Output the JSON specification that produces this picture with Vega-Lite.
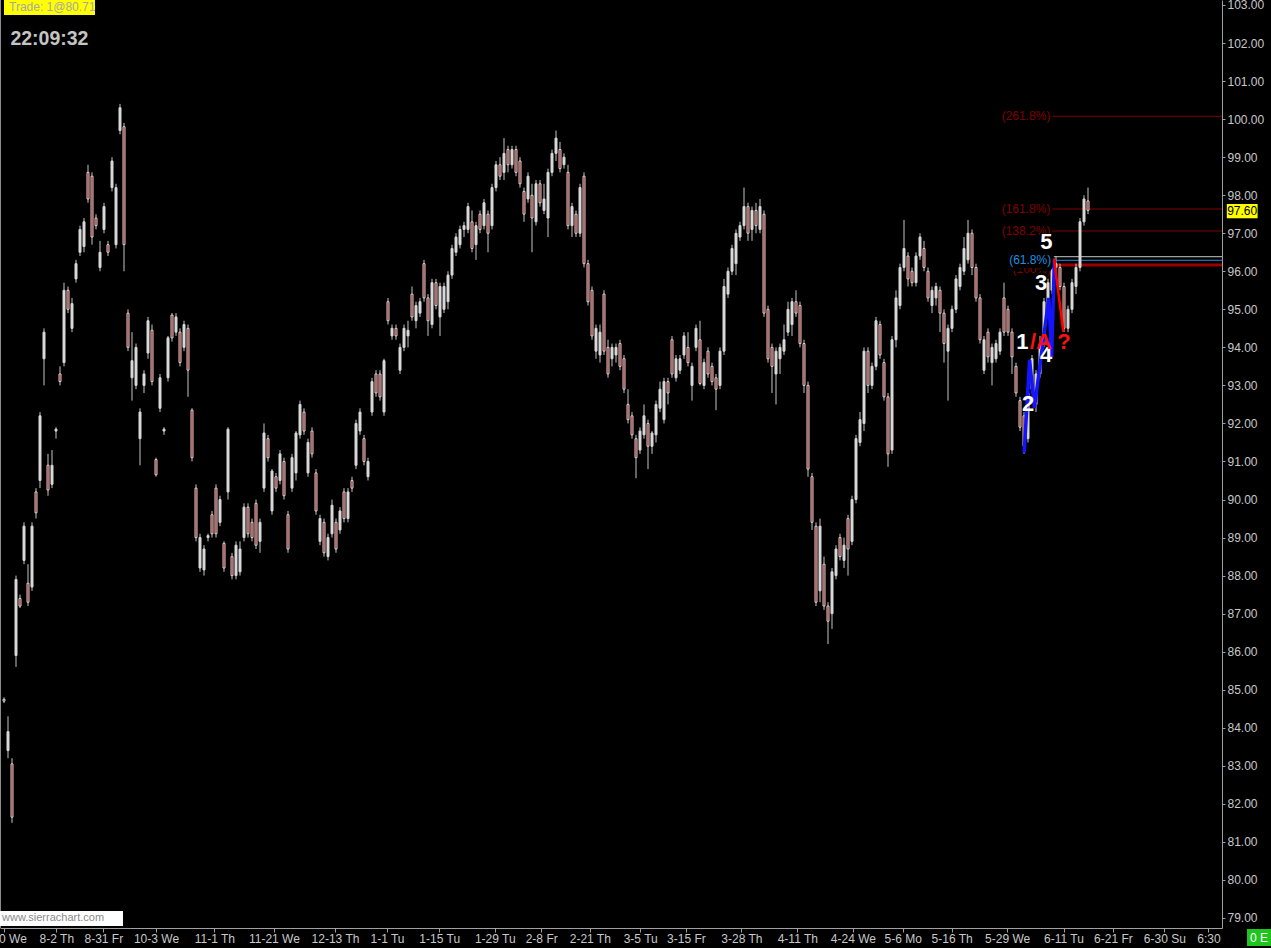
{
"$schema":"https://vega.github.io/schema/vega-lite/v6.json",
"width":1222,"height":928,
"autosize":{"type":"none"},
"padding":{"left":0,"top":0,"right":49,"bottom":20},
"background":"#000000",
"config":{"view":{"stroke":null},"font":"Liberation Sans","axis":{"labelFont":"Liberation Sans","labelFontSize":12,"labelColor":"#c8c8c8","domainColor":"#a0a0a0","tickColor":"#a0a0a0","grid":false,"labelOverlap":false,"labelFlush":false},"axisY":{"labelOverlap":false,"labelBaseline":"middle","tickSize":3,"labelPadding":2},"axisX":{"labelOverlap":false,"tickSize":4,"labelPadding":1}},
"datasets":{
"ohlc":[
{"i":1,"o":84.75,"h":84.8,"l":84.65,"c":84.7},{"i":2,"o":83.4,"h":84.3,"l":83.2,"c":83.9},{"i":3,"o":83.05,"h":83.2,"l":81.5,"c":81.65},{"i":4,"o":85.9,"h":88.0,"l":85.6,"c":87.9},{"i":5,"o":87.4,"h":87.5,"l":87.15,"c":87.2},{"i":6,"o":88.4,"h":89.4,"l":88.3,"c":89.3},{"i":7,"o":87.8,"h":88.3,"l":87.2,"c":87.3},{"i":8,"o":87.7,"h":89.4,"l":87.6,"c":89.3},{"i":9,"o":90.2,"h":90.3,"l":89.5,"c":89.65},{"i":10,"o":90.5,"h":92.3,"l":90.3,"c":92.2},
{"i":11,"o":93.7,"h":94.5,"l":93.0,"c":94.4},{"i":12,"o":90.9,"h":91.2,"l":90.1,"c":90.25},{"i":13,"o":90.4,"h":91.3,"l":90.3,"c":90.9},{"i":14,"o":91.8,"h":91.9,"l":91.6,"c":91.85},{"i":15,"o":93.3,"h":93.5,"l":93.0,"c":93.1},{"i":16,"o":93.6,"h":95.7,"l":93.5,"c":95.5},{"i":17,"o":95.5,"h":95.6,"l":94.9,"c":95.0},{"i":18,"o":94.5,"h":95.3,"l":94.4,"c":95.15},{"i":19,"o":95.8,"h":96.3,"l":95.7,"c":96.2},{"i":20,"o":96.5,"h":97.2,"l":96.4,"c":97.1},
{"i":21,"o":96.65,"h":97.4,"l":96.5,"c":97.3},{"i":22,"o":98.6,"h":98.8,"l":97.8,"c":97.9},{"i":23,"o":98.5,"h":98.6,"l":96.7,"c":96.9},{"i":24,"o":97.4,"h":97.5,"l":97.1,"c":97.2},{"i":25,"o":96.1,"h":96.8,"l":96.0,"c":96.5},{"i":26,"o":97.1,"h":97.8,"l":97.0,"c":97.7},{"i":27,"o":96.7,"h":96.8,"l":96.4,"c":96.5},{"i":28,"o":98.2,"h":99.0,"l":98.1,"c":98.9},{"i":29,"o":96.7,"h":98.3,"l":96.6,"c":98.2},{"i":30,"o":99.7,"h":100.4,"l":99.6,"c":100.3},
{"i":31,"o":99.8,"h":99.9,"l":96.0,"c":96.7},{"i":32,"o":94.9,"h":95.0,"l":93.9,"c":94.0},{"i":33,"o":93.2,"h":94.4,"l":92.6,"c":93.65},{"i":34,"o":93.0,"h":94.1,"l":92.9,"c":94.0},{"i":35,"o":91.6,"h":92.4,"l":90.9,"c":92.3},{"i":36,"o":93.0,"h":93.4,"l":92.8,"c":93.3},{"i":37,"o":93.85,"h":94.8,"l":93.7,"c":94.7},{"i":38,"o":94.45,"h":94.6,"l":93.0,"c":93.1},{"i":39,"o":91.05,"h":91.1,"l":90.6,"c":90.65},{"i":40,"o":92.4,"h":93.3,"l":92.3,"c":93.2},
{"i":41,"o":91.8,"h":91.9,"l":91.7,"c":91.85},{"i":42,"o":93.2,"h":94.3,"l":93.1,"c":94.25},{"i":43,"o":94.85,"h":94.9,"l":94.15,"c":94.25},{"i":44,"o":94.4,"h":94.9,"l":94.3,"c":94.8},{"i":45,"o":94.4,"h":94.5,"l":93.5,"c":93.6},{"i":46,"o":94.0,"h":94.7,"l":93.9,"c":94.6},{"i":47,"o":94.5,"h":94.6,"l":92.7,"c":93.4},{"i":48,"o":92.35,"h":92.4,"l":91.0,"c":91.1},{"i":49,"o":90.3,"h":90.4,"l":88.9,"c":89.0},{"i":50,"o":88.2,"h":89.1,"l":88.1,"c":89.0},
{"i":51,"o":88.15,"h":88.8,"l":88.0,"c":88.7},{"i":52,"o":89.0,"h":89.1,"l":88.9,"c":89.05},{"i":53,"o":89.6,"h":89.7,"l":89.0,"c":89.1},{"i":54,"o":90.3,"h":90.4,"l":89.0,"c":89.1},{"i":55,"o":89.4,"h":90.1,"l":89.3,"c":90.0},{"i":56,"o":88.85,"h":88.9,"l":88.1,"c":88.2},{"i":57,"o":90.2,"h":91.9,"l":90.0,"c":91.85},{"i":58,"o":88.5,"h":88.6,"l":87.9,"c":88.0},{"i":59,"o":88.0,"h":88.9,"l":87.9,"c":88.8},{"i":60,"o":88.1,"h":88.9,"l":88.0,"c":88.7},
{"i":61,"o":89.0,"h":89.9,"l":88.9,"c":89.8},{"i":62,"o":89.8,"h":89.9,"l":89.0,"c":89.1},{"i":63,"o":89.4,"h":89.5,"l":88.9,"c":89.0},{"i":64,"o":89.9,"h":90.0,"l":88.7,"c":88.8},{"i":65,"o":88.9,"h":89.5,"l":88.6,"c":89.4},{"i":66,"o":90.3,"h":92.0,"l":90.2,"c":91.75},{"i":67,"o":91.6,"h":91.7,"l":91.0,"c":91.1},{"i":68,"o":89.7,"h":90.8,"l":89.6,"c":90.75},{"i":69,"o":90.6,"h":90.7,"l":90.2,"c":90.3},{"i":70,"o":90.5,"h":91.3,"l":90.4,"c":91.2},
{"i":71,"o":91.0,"h":91.1,"l":90.0,"c":90.1},{"i":72,"o":89.6,"h":89.7,"l":88.6,"c":88.7},{"i":73,"o":90.3,"h":91.2,"l":90.2,"c":91.1},{"i":74,"o":90.7,"h":91.8,"l":90.5,"c":91.75},{"i":75,"o":91.7,"h":92.6,"l":91.6,"c":92.5},{"i":76,"o":92.3,"h":92.4,"l":91.7,"c":91.8},{"i":77,"o":90.7,"h":91.6,"l":90.6,"c":91.5},{"i":78,"o":91.8,"h":91.9,"l":91.1,"c":91.2},{"i":79,"o":90.7,"h":90.8,"l":89.6,"c":89.7},{"i":80,"o":88.9,"h":89.6,"l":88.8,"c":89.5},
{"i":81,"o":89.4,"h":89.5,"l":88.5,"c":88.6},{"i":82,"o":88.5,"h":89.1,"l":88.4,"c":89.0},{"i":83,"o":89.1,"h":90.0,"l":89.0,"c":89.85},{"i":84,"o":89.4,"h":89.5,"l":88.6,"c":88.7},{"i":85,"o":89.2,"h":89.8,"l":89.1,"c":89.7},{"i":86,"o":90.2,"h":90.3,"l":89.4,"c":89.5},{"i":87,"o":89.5,"h":90.3,"l":89.4,"c":90.2},{"i":88,"o":90.5,"h":90.6,"l":90.2,"c":90.3},{"i":89,"o":90.9,"h":92.1,"l":90.8,"c":92.0},{"i":90,"o":91.8,"h":92.4,"l":91.7,"c":92.3},
{"i":91,"o":91.6,"h":91.7,"l":90.9,"c":91.0},{"i":92,"o":90.6,"h":91.1,"l":90.5,"c":91.0},{"i":93,"o":92.3,"h":93.2,"l":92.2,"c":93.1},{"i":94,"o":93.3,"h":93.4,"l":92.7,"c":92.8},{"i":95,"o":93.3,"h":93.4,"l":92.6,"c":92.7},{"i":96,"o":92.3,"h":93.7,"l":92.2,"c":93.65},{"i":97,"o":95.2,"h":95.3,"l":94.6,"c":94.7},{"i":98,"o":94.3,"h":94.6,"l":94.2,"c":94.5},{"i":99,"o":94.5,"h":94.6,"l":94.2,"c":94.3},{"i":100,"o":93.4,"h":94.1,"l":93.3,"c":94.0},
{"i":101,"o":94.0,"h":94.6,"l":93.9,"c":94.5},{"i":102,"o":94.3,"h":94.7,"l":94.0,"c":94.45},{"i":103,"o":95.4,"h":95.6,"l":94.7,"c":94.8},{"i":104,"o":94.7,"h":95.2,"l":94.5,"c":95.1},{"i":105,"o":94.9,"h":95.3,"l":94.8,"c":95.2},{"i":106,"o":96.2,"h":96.3,"l":95.2,"c":95.3},{"i":107,"o":95.3,"h":95.4,"l":94.3,"c":94.7},{"i":108,"o":94.6,"h":95.8,"l":94.5,"c":95.7},{"i":109,"o":95.7,"h":95.8,"l":95.0,"c":95.1},{"i":110,"o":94.8,"h":95.7,"l":94.3,"c":95.6},
{"i":111,"o":95.0,"h":95.7,"l":94.9,"c":95.6},{"i":112,"o":95.2,"h":96.0,"l":95.0,"c":95.9},{"i":113,"o":95.9,"h":96.7,"l":95.8,"c":96.6},{"i":114,"o":96.5,"h":97.0,"l":96.4,"c":96.9},{"i":115,"o":96.7,"h":97.2,"l":96.6,"c":97.1},{"i":116,"o":97.1,"h":97.3,"l":96.9,"c":97.2},{"i":117,"o":97.1,"h":97.8,"l":97.0,"c":97.7},{"i":118,"o":97.3,"h":97.6,"l":96.5,"c":96.6},{"i":119,"o":96.7,"h":97.3,"l":96.3,"c":97.2},{"i":120,"o":97.5,"h":97.6,"l":97.0,"c":97.1},
{"i":121,"o":97.2,"h":97.9,"l":97.1,"c":97.8},{"i":122,"o":97.5,"h":97.6,"l":96.5,"c":97.0},{"i":123,"o":97.2,"h":98.3,"l":97.1,"c":98.2},{"i":124,"o":98.2,"h":98.9,"l":98.1,"c":98.8},{"i":125,"o":98.8,"h":99.0,"l":98.4,"c":98.5},{"i":126,"o":98.6,"h":99.5,"l":98.4,"c":99.1},{"i":127,"o":99.2,"h":99.3,"l":98.6,"c":98.8},{"i":128,"o":98.8,"h":99.3,"l":98.7,"c":99.2},{"i":129,"o":99.2,"h":99.3,"l":98.5,"c":98.6},{"i":130,"o":98.9,"h":99.0,"l":98.2,"c":98.3},
{"i":131,"o":98.1,"h":98.2,"l":97.3,"c":97.5},{"i":132,"o":97.9,"h":98.6,"l":97.8,"c":98.5},{"i":133,"o":98.0,"h":98.3,"l":96.5,"c":97.4},{"i":134,"o":97.3,"h":98.4,"l":97.2,"c":98.3},{"i":135,"o":98.3,"h":98.4,"l":97.7,"c":97.8},{"i":136,"o":97.6,"h":98.3,"l":97.5,"c":97.9},{"i":137,"o":97.4,"h":98.7,"l":96.9,"c":98.6},{"i":138,"o":98.6,"h":99.2,"l":98.5,"c":99.1},{"i":139,"o":99.1,"h":99.7,"l":98.9,"c":99.5},{"i":140,"o":99.2,"h":99.4,"l":98.6,"c":98.7},
{"i":141,"o":98.8,"h":99.1,"l":98.7,"c":99.0},{"i":142,"o":98.6,"h":98.8,"l":97.1,"c":97.2},{"i":143,"o":97.2,"h":97.8,"l":96.9,"c":97.7},{"i":144,"o":97.5,"h":97.6,"l":96.9,"c":97.0},{"i":145,"o":97.0,"h":98.3,"l":96.9,"c":98.2},{"i":146,"o":98.5,"h":98.6,"l":96.1,"c":96.2},{"i":147,"o":96.2,"h":96.3,"l":95.1,"c":95.2},{"i":148,"o":95.5,"h":95.6,"l":94.2,"c":94.3},{"i":149,"o":93.9,"h":94.6,"l":93.7,"c":94.5},{"i":150,"o":93.8,"h":94.6,"l":93.6,"c":94.4},
{"i":151,"o":95.4,"h":95.5,"l":93.8,"c":93.9},{"i":152,"o":94.0,"h":94.2,"l":93.2,"c":93.3},{"i":153,"o":93.7,"h":94.1,"l":93.5,"c":94.0},{"i":154,"o":93.8,"h":94.1,"l":93.6,"c":94.0},{"i":155,"o":94.1,"h":94.2,"l":93.4,"c":93.5},{"i":156,"o":93.7,"h":93.8,"l":92.8,"c":92.9},{"i":157,"o":92.5,"h":92.9,"l":92.0,"c":92.1},{"i":158,"o":92.2,"h":92.3,"l":91.6,"c":91.7},{"i":159,"o":91.6,"h":91.7,"l":90.56,"c":91.1},{"i":160,"o":91.3,"h":91.9,"l":91.2,"c":91.8},
{"i":161,"o":91.7,"h":92.5,"l":91.6,"c":92.2},{"i":162,"o":92.0,"h":92.1,"l":90.8,"c":91.4},{"i":163,"o":91.4,"h":91.8,"l":91.2,"c":91.75},{"i":164,"o":91.7,"h":92.6,"l":91.5,"c":92.5},{"i":165,"o":92.4,"h":93.1,"l":92.3,"c":92.9},{"i":166,"o":92.1,"h":93.2,"l":92.0,"c":93.1},{"i":167,"o":93.1,"h":93.2,"l":92.5,"c":92.8},{"i":168,"o":94.2,"h":94.3,"l":93.2,"c":93.3},{"i":169,"o":93.2,"h":93.8,"l":93.1,"c":93.7},{"i":170,"o":93.4,"h":93.8,"l":93.3,"c":93.7},
{"i":171,"o":93.8,"h":94.4,"l":93.7,"c":94.3},{"i":172,"o":94.0,"h":94.4,"l":93.5,"c":93.6},{"i":173,"o":93.0,"h":93.6,"l":92.6,"c":93.5},{"i":174,"o":94.0,"h":94.6,"l":93.9,"c":94.5},{"i":175,"o":94.2,"h":94.7,"l":93.0,"c":93.05},{"i":176,"o":93.0,"h":93.7,"l":92.9,"c":93.6},{"i":177,"o":93.9,"h":94.0,"l":93.2,"c":93.3},{"i":178,"o":93.5,"h":93.6,"l":93.0,"c":93.1},{"i":179,"o":93.2,"h":93.3,"l":92.35,"c":92.9},{"i":180,"o":93.0,"h":94.0,"l":92.9,"c":93.9},
{"i":181,"o":93.9,"h":95.8,"l":93.8,"c":95.6},{"i":182,"o":95.4,"h":96.1,"l":95.3,"c":96.0},{"i":183,"o":96.0,"h":96.7,"l":95.9,"c":96.6},{"i":184,"o":96.2,"h":97.1,"l":95.9,"c":97.0},{"i":185,"o":96.9,"h":97.3,"l":96.8,"c":97.2},{"i":186,"o":97.2,"h":98.2,"l":97.1,"c":97.7},{"i":187,"o":97.7,"h":97.8,"l":96.8,"c":97.0},{"i":188,"o":97.1,"h":97.7,"l":96.8,"c":97.6},{"i":189,"o":97.6,"h":97.8,"l":97.0,"c":97.2},{"i":190,"o":97.1,"h":97.9,"l":97.0,"c":97.7},
{"i":191,"o":97.5,"h":97.6,"l":94.8,"c":94.9},{"i":192,"o":95.0,"h":95.1,"l":93.6,"c":93.7},{"i":193,"o":94.0,"h":94.1,"l":92.8,"c":93.5},{"i":194,"o":93.3,"h":94.0,"l":92.5,"c":93.9},{"i":195,"o":93.7,"h":94.1,"l":93.3,"c":94.0},{"i":196,"o":93.9,"h":94.6,"l":93.8,"c":94.2},{"i":197,"o":94.4,"h":95.2,"l":94.3,"c":95.0},{"i":198,"o":94.6,"h":95.3,"l":94.3,"c":95.2},{"i":199,"o":95.2,"h":95.5,"l":94.8,"c":94.9},{"i":200,"o":95.1,"h":95.2,"l":94.0,"c":94.1},
{"i":201,"o":94.1,"h":94.2,"l":92.8,"c":93.0},{"i":202,"o":93.0,"h":93.1,"l":90.6,"c":90.8},{"i":203,"o":90.6,"h":90.7,"l":89.2,"c":89.4},{"i":204,"o":89.3,"h":89.4,"l":87.2,"c":87.3},{"i":205,"o":87.6,"h":89.5,"l":87.3,"c":89.3},{"i":206,"o":88.3,"h":88.5,"l":87.1,"c":87.2},{"i":207,"o":87.2,"h":87.3,"l":86.2,"c":86.8},{"i":208,"o":87.0,"h":88.2,"l":86.6,"c":88.1},{"i":209,"o":88.0,"h":88.8,"l":87.9,"c":88.7},{"i":210,"o":89.0,"h":89.1,"l":88.4,"c":88.5},
{"i":211,"o":88.4,"h":89.0,"l":88.2,"c":88.8},{"i":212,"o":89.5,"h":89.6,"l":88.0,"c":88.7},{"i":213,"o":88.9,"h":90.1,"l":88.8,"c":90.0},{"i":214,"o":90.0,"h":91.7,"l":89.9,"c":91.6},{"i":215,"o":91.5,"h":92.3,"l":91.4,"c":92.1},{"i":216,"o":92.0,"h":94.0,"l":91.8,"c":93.9},{"i":217,"o":93.9,"h":94.0,"l":92.8,"c":93.0},{"i":218,"o":93.0,"h":93.6,"l":92.9,"c":93.5},{"i":219,"o":93.5,"h":94.8,"l":93.4,"c":94.7},{"i":220,"o":94.6,"h":94.7,"l":93.7,"c":93.8},
{"i":221,"o":93.6,"h":93.7,"l":92.6,"c":92.7},{"i":222,"o":92.7,"h":92.8,"l":90.86,"c":91.2},{"i":223,"o":91.3,"h":94.3,"l":91.2,"c":94.2},{"i":224,"o":94.2,"h":95.5,"l":94.0,"c":95.3},{"i":225,"o":95.1,"h":96.2,"l":95.0,"c":96.1},{"i":226,"o":96.1,"h":97.35,"l":96.0,"c":96.6},{"i":227,"o":96.4,"h":96.5,"l":95.6,"c":95.8},{"i":228,"o":96.0,"h":96.1,"l":95.6,"c":95.7},{"i":229,"o":95.7,"h":96.5,"l":95.6,"c":96.4},{"i":230,"o":96.4,"h":97.0,"l":96.3,"c":96.9},
{"i":231,"o":96.6,"h":96.8,"l":96.0,"c":96.1},{"i":232,"o":96.0,"h":96.1,"l":95.2,"c":95.3},{"i":233,"o":95.1,"h":95.6,"l":94.9,"c":95.5},{"i":234,"o":95.3,"h":95.7,"l":95.1,"c":95.6},{"i":235,"o":95.5,"h":95.6,"l":94.4,"c":94.9},{"i":236,"o":94.9,"h":95.0,"l":93.6,"c":94.1},{"i":237,"o":93.9,"h":94.6,"l":92.6,"c":94.5},{"i":238,"o":94.5,"h":95.1,"l":94.4,"c":95.0},{"i":239,"o":95.0,"h":95.9,"l":94.9,"c":95.8},{"i":240,"o":95.6,"h":96.2,"l":95.5,"c":96.1},
{"i":241,"o":96.0,"h":96.9,"l":95.9,"c":96.6},{"i":242,"o":96.3,"h":97.35,"l":96.2,"c":97.0},{"i":243,"o":97.0,"h":97.1,"l":95.9,"c":96.1},{"i":244,"o":96.1,"h":96.2,"l":95.2,"c":95.3},{"i":245,"o":95.3,"h":95.4,"l":94.1,"c":94.2},{"i":246,"o":93.4,"h":94.3,"l":93.3,"c":94.2},{"i":247,"o":94.4,"h":94.5,"l":93.6,"c":93.75},{"i":248,"o":93.6,"h":94.1,"l":93.0,"c":94.0},{"i":249,"o":93.7,"h":94.2,"l":93.6,"c":94.1},{"i":250,"o":93.9,"h":94.5,"l":93.8,"c":94.4},
{"i":251,"o":95.3,"h":95.7,"l":94.3,"c":94.4},{"i":252,"o":95.0,"h":95.1,"l":94.3,"c":94.4},{"i":253,"o":94.4,"h":94.5,"l":93.3,"c":93.75},{"i":254,"o":93.5,"h":93.6,"l":92.7,"c":92.8},{"i":255,"o":92.6,"h":92.7,"l":91.8,"c":91.9},{"i":256,"o":92.2,"h":92.3,"l":91.2,"c":91.4},{"i":257,"o":91.6,"h":93.0,"l":91.5,"c":92.8},{"i":258,"o":92.9,"h":93.8,"l":92.8,"c":93.7},{"i":259,"o":92.5,"h":93.4,"l":92.3,"c":93.3},{"i":260,"o":93.3,"h":94.3,"l":93.2,"c":94.1},
{"i":261,"o":94.1,"h":95.3,"l":94.0,"c":95.2},{"i":262,"o":95.0,"h":95.8,"l":94.9,"c":95.7},{"i":263,"o":95.5,"h":96.2,"l":95.4,"c":96.1},{"i":264,"o":96.1,"h":96.4,"l":95.8,"c":96.2},{"i":265,"o":96.1,"h":96.2,"l":95.5,"c":95.6},{"i":266,"o":95.6,"h":95.7,"l":94.4,"c":94.5},{"i":267,"o":94.5,"h":95.1,"l":94.4,"c":95.0},{"i":268,"o":95.0,"h":95.8,"l":94.9,"c":95.7},{"i":269,"o":95.6,"h":96.2,"l":95.4,"c":96.1},{"i":270,"o":96.1,"h":97.4,"l":96.0,"c":97.3},
{"i":271,"o":97.3,"h":98.0,"l":97.2,"c":97.9},{"i":272,"o":97.85,"h":98.2,"l":97.5,"c":97.6}
],
"fib":[
{"lbl":"(261.8%)","p":100.074,"kind":"ext","s":263.1},
{"lbl":"(161.8%)","p":97.637,"kind":"ext","s":263.1},
{"lbl":"(138.2%)","p":97.059,"kind":"ext","s":263.1},
{"lbl":"","p":96.383,"kind":"start","s":263.3},
{"lbl":"(61.8%)","p":96.289,"kind":"ret","s":263.3},
{"lbl":"(100%)","p":96.165,"kind":"base","s":263.3}
],
"wave":[
{"k":0,"i":256.05,"p":91.23},{"k":1,"i":257.4,"p":93.67},{"k":2,"i":258.6,"p":92.41},{"k":3,"i":262.2,"p":95.3},{"k":4,"i":262.9,"p":93.75},{"k":5,"i":263.6,"p":96.3}
],
"waveA":[
{"k":0,"i":263.5,"p":96.34},{"k":1,"i":265.83,"p":94.41}
],
"wlab":[
{"t":"1","i":255.6,"p":94.13},{"t":"2","i":257.0,"p":92.52},{"t":"3","i":260.25,"p":95.68},{"t":"4","i":261.5,"p":93.8},{"t":"5","i":261.6,"p":96.78}
]
},
"layer":[
{"data":{"name":"fib"},"transform":[{"filter":"datum.kind != 'base'"}],
 "mark":{"type":"rule","strokeWidth":1},
 "encoding":{
  "x":{"field":"s","type":"quantitative","scale":{"domain":[0,305.5],"nice":false,"zero":false,"padding":0},
       "axis":{"orient":"bottom","values":[0.95,14.08,25.83,39,53.58,68.47,83.75,96.75,109.8,123.68,135.3,147.45,160.05,171.48,185.35,199.33,213.23,225.68,237.9,251.78,265.88,278.23,291.08,302.1],
        "labelExpr":"['6-20 We','8-2 Th','8-31 Fr','10-3 We','11-1 Th','11-21 We','12-13 Th','1-1 Tu','1-15 Tu','1-29 Tu','2-8 Fr','2-21 Th','3-5 Tu','3-15 Fr','3-28 Th','4-11 Th','4-24 We','5-6 Mo','5-16 Th','5-29 We','6-11 Tu','6-21 Fr','6-30 Su','6:30'][indexof([0.95,14.08,25.83,39,53.58,68.47,83.75,96.75,109.8,123.68,135.3,147.45,160.05,171.48,185.35,199.33,213.23,225.68,237.9,251.78,265.88,278.23,291.08,302.1], datum.value)]",
        "tickCount":40,"labelFlush":false,"labelOverlap":false,"labelBound":false,"tickSize":4,"labelPadding":1,"title":null,"zindex":1}},
  "x2":{"datum":305.5},
  "y":{"field":"p","type":"quantitative","scale":{"domain":[78.737,103.131],"nice":false,"zero":false,"padding":0},
       "axis":{"orient":"right","values":[79,80,81,82,83,84,85,86,87,88,89,90,91,92,93,94,95,96,97,98,99,100,101,102,103],"tickCount":40,"format":".2f","tickSize":3,"labelPadding":2,"labelFlush":false,"labelOverlap":false,"labelBound":false,"labelBaseline":"middle","title":null,"zindex":1}},
  "color":{"field":"kind","type":"nominal","scale":{"domain":["ext","ret","base","start"],"range":["#800000","#1e8fe0","#990000","#c8c8c8"]},"legend":null}
 }},
{"data":{"name":"fib"},"transform":[{"filter":"datum.kind == 'base'"}],
 "mark":{"type":"rule","strokeWidth":3,"color":"#990000"},
 "encoding":{"x":{"field":"s","type":"quantitative","axis":{"title":null}},"x2":{"datum":305.5},"y":{"field":"p","type":"quantitative","axis":{"title":null}}}},
{"data":{"name":"ohlc"},
 "mark":{"type":"rule","color":"#c4c4c4","strokeWidth":1},
 "encoding":{"x":{"field":"i","type":"quantitative","axis":{"title":null}},"y":{"field":"l","type":"quantitative","axis":{"title":null}},"y2":{"field":"h"}}},
{"data":{"name":"ohlc"},
 "mark":{"type":"bar","width":2,"stroke":"#d4d4d4","strokeWidth":1},
 "encoding":{"x":{"field":"i","type":"quantitative","axis":{"title":null}},"y":{"field":"o","type":"quantitative","axis":{"title":null}},"y2":{"field":"c"},
  "fill":{"condition":{"test":"datum.c < datum.o","value":"#a30000"},"value":"#dcdcdc"}}},
{"data":{"name":"fib"},"transform":[{"filter":"datum.kind == 'ext'"}],
 "mark":{"type":"text","align":"right","baseline":"middle","dx":-2,"fontSize":12,"color":"#800000"},
 "encoding":{"x":{"field":"s","type":"quantitative","axis":{"title":null}},"y":{"field":"p","type":"quantitative","axis":{"title":null}},"text":{"field":"lbl"}}},
{"data":{"name":"fib"},"transform":[{"filter":"datum.kind == 'base'"}],
 "mark":{"type":"text","align":"right","baseline":"middle","dx":-2,"dy":4,"fontSize":12,"color":"#800000"},
 "encoding":{"x":{"field":"s","type":"quantitative","axis":{"title":null}},"y":{"field":"p","type":"quantitative","axis":{"title":null}},"text":{"field":"lbl"}}},
{"data":{"name":"fib"},"transform":[{"filter":"datum.kind == 'ret'"}],
 "mark":{"type":"text","align":"right","baseline":"middle","dx":-2,"fontSize":12,"color":"#000000","stroke":"#000000","strokeWidth":8},
 "encoding":{"x":{"field":"s","type":"quantitative","axis":{"title":null}},"y":{"field":"p","type":"quantitative","axis":{"title":null}},"text":{"field":"lbl"}}},
{"data":{"name":"fib"},"transform":[{"filter":"datum.kind == 'ret'"}],
 "mark":{"type":"text","align":"right","baseline":"middle","dx":-2,"fontSize":12,"color":"#1e8fe0"},
 "encoding":{"x":{"field":"s","type":"quantitative","axis":{"title":null}},"y":{"field":"p","type":"quantitative","axis":{"title":null}},"text":{"field":"lbl"}}},
{"data":{"name":"wave"},
 "mark":{"type":"line","color":"#1414ff","strokeWidth":3.5},
 "encoding":{"x":{"field":"i","type":"quantitative","axis":{"title":null}},"y":{"field":"p","type":"quantitative","axis":{"title":null}},"order":{"field":"k"}}},
{"data":{"name":"waveA"},
 "mark":{"type":"line","color":"#ff0000","strokeWidth":2.5},
 "encoding":{"x":{"field":"i","type":"quantitative","axis":{"title":null}},"y":{"field":"p","type":"quantitative","axis":{"title":null}},"order":{"field":"k"}}},
{"data":{"name":"wlab"},
 "mark":{"type":"text","align":"center","baseline":"middle","fontSize":22,"fontWeight":"bold","color":"#ffffff"},
 "encoding":{"x":{"field":"i","type":"quantitative","axis":{"title":null}},"y":{"field":"p","type":"quantitative","axis":{"title":null}},"text":{"field":"t"}}},
{"data":{"values":[{"t":"/A ?"}]},
 "mark":{"type":"text","align":"left","baseline":"middle","fontSize":22,"fontWeight":"bold","color":"#ff1010"},
 "encoding":{"x":{"datum":257.5,"type":"quantitative"},"y":{"datum":94.13,"type":"quantitative"},"text":{"field":"t"}}},
{"data":{"values":[{}]},
 "mark":{"type":"rule","color":"#8c8c8c","strokeWidth":2},
 "encoding":{"x":{"datum":0,"type":"quantitative"}}},
{"data":{"values":[{"t":"Trade: 1@80.71"}]},
 "mark":{"type":"rect","color":"#ffff00"},
 "encoding":{"x":{"datum":1,"type":"quantitative"},"x2":{"datum":23.75},"y":{"datum":103.131,"type":"quantitative"},"y2":{"datum":102.737}}},
{"data":{"values":[{"t":"Trade: 1@80.71"}]},
 "mark":{"type":"text","align":"left","baseline":"middle","fontSize":12,"color":"#a8a8a8"},
 "encoding":{"x":{"datum":2.25,"type":"quantitative"},"y":{"datum":102.934,"type":"quantitative"},"text":{"field":"t"}}},
{"data":{"values":[{"t":"22:09:32"}]},
 "mark":{"type":"text","align":"left","baseline":"middle","fontSize":19.5,"fontWeight":"bold","color":"#c4c4c4"},
 "encoding":{"x":{"datum":2.6,"type":"quantitative"},"y":{"datum":102.093,"type":"quantitative"},"text":{"field":"t"}}},
{"data":{"values":[{"t":"www.sierrachart.com"}]},
 "mark":{"type":"rect","color":"#ffffff"},
 "encoding":{"x":{"datum":0,"type":"quantitative"},"x2":{"datum":30.75},"y":{"datum":79.184,"type":"quantitative"},"y2":{"datum":78.79}}},
{"data":{"values":[{"t":"www.sierrachart.com"}]},
 "mark":{"type":"text","align":"left","baseline":"middle","fontSize":11,"color":"#8a8a8a"},
 "encoding":{"x":{"datum":0.5,"type":"quantitative"},"y":{"datum":78.987,"type":"quantitative"},"text":{"field":"t"}}},
{"data":{"values":[{"t":"97.60"}]},
 "mark":{"type":"rect","color":"#ffff00"},
 "encoding":{"x":{"datum":306.7,"type":"quantitative"},"x2":{"datum":314.4},"y":{"datum":97.768,"type":"quantitative"},"y2":{"datum":97.393}}},
{"data":{"values":[{"t":"97.60"}]},
 "mark":{"type":"text","align":"center","baseline":"middle","fontSize":12,"color":"#000000"},
 "encoding":{"x":{"datum":310.55,"type":"quantitative"},"y":{"datum":97.58,"type":"quantitative"},"text":{"field":"t"}}},
{"data":{"values":[{"t":"0 E"}]},
 "mark":{"type":"rect","color":"#1fc41f"},
 "encoding":{"x":{"datum":311.75,"type":"quantitative"},"x2":{"datum":317.75},"y":{"datum":78.711,"type":"quantitative"},"y2":{"datum":78.264}}},
{"data":{"values":[{"t":"0 E"}]},
 "mark":{"type":"text","align":"center","baseline":"middle","fontSize":12,"color":"#ffffff"},
 "encoding":{"x":{"datum":314.75,"type":"quantitative"},"y":{"datum":78.487,"type":"quantitative"},"text":{"field":"t"}}}
]
}
